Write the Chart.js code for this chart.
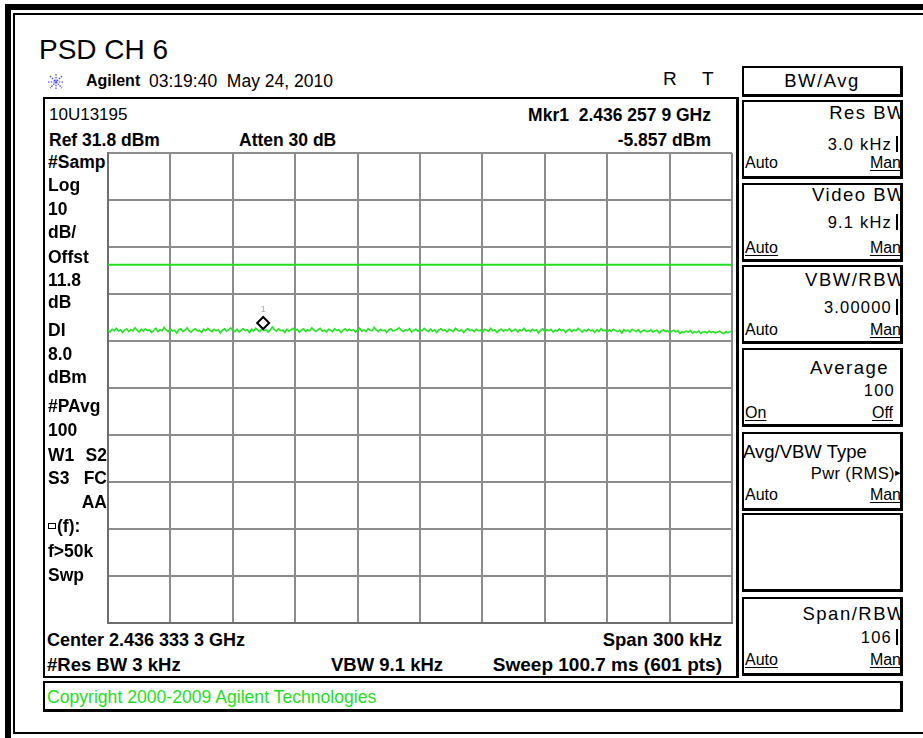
<!DOCTYPE html>
<html>
<head>
<meta charset="utf-8">
<script src="https://cdn.jsdelivr.net/npm/chart.js@4.4.1/dist/chart.umd.min.js"></script>
<style>
  html, body { margin: 0; padding: 0; background: #fff; }
  body { width: 923px; height: 738px; position: relative; overflow: hidden;
         font-family: "Liberation Sans", Arial, sans-serif; color: #000; }
  .abs { position: absolute; white-space: nowrap; }
  .frame-outer { position: absolute; left: 5px; top: 4px; width: 1000px; height: 731px;
                 border-left: 6px solid #000; border-top: 6px solid #000; border-bottom: 6px solid #000; }
  .frame-inner { position: absolute; left: 13px; top: 13px; width: 1000px; height: 717px;
                 border-left: 2px solid #000; border-top: 2px solid #000; border-bottom: 2px solid #000; }
  .box { position: absolute; box-sizing: border-box; border: 2px solid #000;
         border-right-width: 3px; border-bottom-width: 3px; overflow: hidden; }
  #chartWrap { position: absolute; left: 106px; top: 151px; width: 628px; height: 474px; }
  u { text-underline-offset: 2px; }
  .sq { display: inline-block; width: 6px; height: 4px; border: 1px solid #000; vertical-align: 3px; margin-right: 1px; }
</style>
</head>
<body>
<div class="frame-outer"></div>
<div class="frame-inner"></div>

<svg class="abs" style="left:47px;top:73px" width="18" height="18" viewBox="0 0 18 18">
  <g stroke="#3a3aff" stroke-width="1.2" stroke-dasharray="1.5 1.2">
    <line x1="9" y1="1" x2="9" y2="17"/>
    <line x1="1" y1="9" x2="17" y2="9"/>
    <line x1="3" y1="3" x2="15" y2="15"/>
    <line x1="15" y1="3" x2="3" y2="15"/>
  </g>
</svg>

<div class="box" style="left:43px;top:97px;width:696px;height:581px;border-bottom-width:2px"></div>
<div class="box" style="left:43px;top:681px;width:860px;height:31px"></div>
<div id="chartWrap"><canvas id="psd" width="628" height="474"></canvas></div>

<script>
// DATA
const CENTER_GHZ = 2.4363333;
const SPAN_KHZ = 300;
const REF_DBM = 31.8;
const xTicks = [-150, -120, -90, -60, -30, 0, 30, 60, 90, 120, 150];
const yTicks = [31.8, 21.8, 11.8, 1.8, -8.2, -18.2, -28.2, -38.2, -48.2, -58.2, -68.2];
const displayLineDbm = 8.0;
const markerGHz = 2.4362579;
const markerDbm = -5.857;
// trace 1, read every 1 kHz across the span
const traceDbm = [
  -5.9, -6.3, -5.7, -6.0, -5.5, -6.1, -5.8, -6.4, -5.9, -5.6,
  -6.2, -5.8, -6.0, -5.4, -5.9, -6.3, -5.7, -6.1, -5.6, -6.0,
  -5.8, -6.4, -5.9, -5.5, -6.2, -5.8, -6.0, -5.3, -5.9, -6.2,
  -5.7, -6.1, -5.9, -6.5, -5.8, -5.6, -6.2, -5.9, -5.4, -6.0,
  -6.3, -5.8, -5.6, -6.1, -5.9, -6.4, -5.7, -6.0, -5.5, -5.9,
  -6.2, -5.7, -6.0, -5.8, -6.5, -5.9, -5.6, -6.1, -5.8, -5.4,
  -5.9, -6.2, -5.7, -6.3, -5.9, -5.6, -6.0, -5.8, -6.4, -5.7,
  -6.1, -5.5, -5.9, -6.2, -5.6, -6.0, -5.8, -6.3, -5.9, -5.2,
  -5.8, -6.1, -5.6, -6.0, -5.9, -6.4, -5.7, -6.1, -5.8, -5.5,
  -6.0, -5.7, -6.3, -5.9, -5.6, -6.2, -5.8, -6.0, -5.4, -5.9,
  -6.2, -5.8, -5.5, -6.1, -5.9, -6.3, -5.7, -5.9, -6.2, -5.6,
  -6.0, -5.8, -6.4, -5.9, -5.6, -6.1, -5.7, -6.0, -5.8, -6.3,
  -5.9, -5.5, -6.1, -5.8, -6.2, -5.6, -5.9, -6.0, -5.3, -5.8,
  -6.2, -5.7, -6.0, -5.9, -6.4, -5.8, -5.6, -6.1, -5.9, -5.7,
  -5.4, -5.9, -6.2, -5.8, -6.0, -5.6, -6.3, -5.9, -5.7, -6.1,
  -5.8, -6.0, -5.5, -5.9, -6.2, -5.7, -6.1, -5.8, -6.4, -5.9,
  -5.6, -6.0, -5.8, -6.3, -5.7, -5.9, -6.2, -5.5, -5.9, -6.1,
  -5.8, -6.4, -5.9, -5.6, -6.0, -5.8, -6.2, -5.7, -6.0, -5.9,
  -6.3, -5.7, -5.9, -6.1, -5.5, -6.0, -5.8, -6.4, -5.9, -5.7,
  -6.1, -5.8, -6.0, -5.6, -6.2, -5.9, -5.7, -6.3, -5.8, -6.0,
  -5.5, -6.1, -5.9, -6.2, -5.7, -6.0, -5.8, -6.5, -5.9, -5.6,
  -6.2, -5.8, -6.0, -5.7, -6.3, -5.9, -6.1, -5.6, -6.0, -5.8,
  -6.4, -5.9, -5.7, -6.2, -5.8, -6.0, -5.5, -5.9, -6.3, -5.8,
  -6.1, -5.7, -6.0, -5.9, -6.4, -5.8, -6.2, -5.6, -6.0, -5.9,
  -6.3, -5.8, -6.1, -5.7, -6.0, -6.2, -5.9, -6.5, -5.8, -6.1,
  -5.9, -6.3, -5.7, -6.0, -6.2, -5.8, -6.4, -6.0, -5.9, -6.2,
  -6.1, -5.8, -6.3, -6.0, -5.9, -6.5, -6.1, -5.8, -6.2, -6.0,
  -6.4, -6.1, -5.9, -6.3, -6.0, -6.6, -6.2, -6.4, -6.1, -6.3,
  -6.0, -6.5, -6.2, -6.4, -6.1, -6.6, -6.3, -6.2, -6.5, -6.1,
  -6.4, -6.2, -6.5, -6.3, -6.1, -6.4, -6.6, -6.2, -6.4, -6.3,
  -6.0
];

// TEXT HELPERS
function put(text, x, cy, o = {}) {
  const el = document.createElement("div");
  el.className = "abs";
  const size = o.size || 17.5;
  const lh = o.lh || 20;
  el.style.fontSize = size + "px";
  el.style.lineHeight = lh + "px";
  el.style.top = cy - lh / 2 + "px";
  if (o.bold) el.style.fontWeight = "bold";
  if (o.color) el.style.color = o.color;
  if (o.ls) el.style.letterSpacing = o.ls + "px";
  if (o.center) {
    el.style.left = "0px";
    el.style.width = "100%";
    el.style.textAlign = "center";
  } else if (o.right) el.style.right = (o.parentW || 923) - x + "px";
  else el.style.left = x + "px";
  el.innerHTML = text;
  (o.parent || document.body).appendChild(el);
  return el;
}

function setupLabels() {
  put("PSD CH 6", 39, 50, { size: 28, lh: 32 });
  put("Agilent", 86, 81, { size: 16, bold: true });
  put("03:19:40&nbsp; May 24, 2010", 149, 81, { size: 17.5 });
  put("R", 663, 79, { size: 19 });
  put("T", 702, 79, { size: 19 });

  put("10U13195", 49, 115, { size: 17 });
  put("Ref 31.8 dBm", 49, 140, { bold: true });
  put("Atten 30 dB", 239, 140, { bold: true });
  put("Mkr1&nbsp; 2.436 257 9 GHz", 711, 115, { bold: true, right: true });
  put("-5.857 dBm", 711, 140, { bold: true, right: true });

  const side = [
    ["#Samp", 162], ["Log", 185], ["10", 209], ["dB/", 232], ["Offst", 257],
    ["11.8", 280], ["dB", 302], ["DI", 330], ["8.0", 354], ["dBm", 377],
    ["#PAvg", 406], ["100", 430], ["W1", 455], ["S3", 478],
    ['<span class="sq"></span>(f):', 526], ["f>50k", 551], ["Swp", 575],
  ];
  side.forEach(([t, y]) => put(t, 48, y, { bold: true }));
  put("S2", 107, 455, { bold: true, right: true });
  put("FC", 107, 478, { bold: true, right: true });
  put("AA", 107, 502, { bold: true, right: true });

  put("Center 2.436 333 3 GHz", 47, 640, { size: 18, bold: true });
  put("Span 300 kHz", 722, 640, { size: 18.5, bold: true, right: true });
  put("#Res BW 3 kHz", 47, 665, { size: 18.5, bold: true });
  put("VBW 9.1 kHz", 331, 665, { size: 18.5, bold: true });
  put("Sweep 100.7 ms (601 pts)", 722, 665, { size: 19, bold: true, right: true });

  put("Copyright 2000-2009 Agilent Technologies", 47, 697, { size: 17.6, color: "#1ee01e" });
}

// SOFTKEYS
function setupSoftkeys() {
  const head = document.createElement("div");
  head.className = "box";
  Object.assign(head.style, { left: "742px", top: "66px", width: "161px", height: "31px" });
  document.body.appendChild(head);
  put("BW/Avg", 0, 13, { parent: head, size: 18.5, ls: 1.5, center: true });

  const keys = [
    { top: 100, title: "Res BW", ty: 11, value: "3.0 kHz", vy: 42, bar: true, left: "Auto", right: "<u>Man</u>", ly: 61 },
    { top: 183, title: "Video BW", ty: 10, value: "9.1 kHz", vy: 37, bar: true, left: "<u>Auto</u>", right: "<u>Man</u>", ly: 63 },
    { top: 265, title: "VBW/RBW", ty: 13, value: "3.00000", vy: 40, bar: true, left: "Auto", right: "<u>Man</u>", ly: 63 },
    { top: 348, title: "Average", ty: 18, titleEnd: 889, value: "100", vy: 40, left: "<u>On</u>", right: "<u>Off</u>", rightEnd: 893, ly: 63 },
    { top: 432, title: "Avg/VBW Type", ty: 18, titleStart: 743, value: "Pwr (RMS)", vy: 39, arrow: true, left: "Auto", right: "<u>Man</u>", ly: 61 },
    { top: 513 },
    { top: 597, title: "Span/RBW", ty: 15, value: "106", vy: 38, bar: true, left: "<u>Auto</u>", right: "<u>Man</u>", ly: 61 },
  ];

  keys.forEach((k) => {
    const box = document.createElement("div");
    box.className = "box";
    Object.assign(box.style, { left: "742px", top: k.top + "px", width: "161px", height: "79px" });
    document.body.appendChild(box);
    if (!k.title) return;
    const W = 156; // padding box width, origin at x=744
    const o = { parent: box, parentW: W };
    if (k.titleStart) put(k.title, k.titleStart - 744, k.ty, { ...o, size: 18.5 });
    else put(k.title, (k.titleEnd || 906) - 744, k.ty, { ...o, size: 18.5, ls: 1.5, right: true });
    const vEnd = k.bar ? 892 : 895;
    put(k.value, vEnd - 744, k.vy, { ...o, size: 16.5, ls: k.arrow ? 0.4 : 1.2, right: true });
    if (k.bar) {
      const bar = document.createElement("div");
      bar.className = "abs";
      Object.assign(bar.style, { left: 896 - 744 + "px", top: k.vy - 8 + "px", width: "2px", height: "16px", background: "#000" });
      box.appendChild(bar);
    }
    if (k.arrow) put("▸", 895 - 744, k.vy - 1, { ...o, size: 11 });
    put(k.left, 1, k.ly, { ...o, size: 16 });
    put(k.right, (k.rightEnd || 901) - 744, k.ly, { ...o, size: 16, right: true });
  });
}

// CHART
function setupChart() {
  const canvas = document.querySelector("#psd");

  const markerPlugin = {
    id: "mkr",
    afterDatasetsDraw(chart) {
      const { ctx, scales } = chart;
      const x = scales.x.getPixelForValue((markerGHz - CENTER_GHZ) * 1e6);
      const y = scales.y.getPixelForValue(markerDbm) - 1;
      const r = 6;
      ctx.save();
      ctx.beginPath();
      ctx.moveTo(x, y);
      ctx.lineTo(x + r, y - r);
      ctx.lineTo(x, y - 2 * r);
      ctx.lineTo(x - r, y - r);
      ctx.closePath();
      ctx.fillStyle = "#fff";
      ctx.fill();
      ctx.lineWidth = 2;
      ctx.strokeStyle = "#000";
      ctx.stroke();
      ctx.fillStyle = "#a8a8a8";
      ctx.font = "9px 'Liberation Sans', Arial";
      ctx.textAlign = "center";
      ctx.fillText("1", x, y - 2 * r - 5);
      ctx.restore();
    },
  };

  const axisGrid = { color: "#8c8c8c", lineWidth: 2, drawTicks: false };
  const axisBorder = { color: "#6e6e6e", width: 2 };

  new Chart(canvas, {
    type: "line",
    data: {
      datasets: [
        {
          label: "Trace 1",
          data: traceDbm.map((v, i) => ({ x: -SPAN_KHZ / 2 + (i * SPAN_KHZ) / (traceDbm.length - 1), y: v })),
          borderColor: "#22e622",
          borderWidth: 1.6,
          pointRadius: 0,
          tension: 0,
        },
        {
          label: "Display line",
          data: [
            { x: xTicks[0], y: displayLineDbm },
            { x: xTicks[xTicks.length - 1], y: displayLineDbm },
          ],
          borderColor: "#22dd22",
          borderWidth: 2,
          pointRadius: 0,
        },
      ],
    },
    options: {
      responsive: false,
      animation: false,
      layout: { padding: 2 },
      plugins: { legend: { display: false }, tooltip: { enabled: false } },
      scales: {
        x: {
          type: "linear",
          min: xTicks[0],
          max: xTicks[xTicks.length - 1],
          afterBuildTicks: (axis) => { axis.ticks = xTicks.map((v) => ({ value: v })); },
          ticks: { display: false },
          grid: axisGrid,
          border: axisBorder,
        },
        y: {
          type: "linear",
          min: yTicks[yTicks.length - 1],
          max: REF_DBM,
          afterBuildTicks: (axis) => { axis.ticks = yTicks.map((v) => ({ value: v })); },
          ticks: { display: false },
          grid: axisGrid,
          border: axisBorder,
        },
      },
    },
    plugins: [markerPlugin],
  });
}

// INIT
setupLabels();
setupSoftkeys();
setupChart();
</script>
</body>
</html>
